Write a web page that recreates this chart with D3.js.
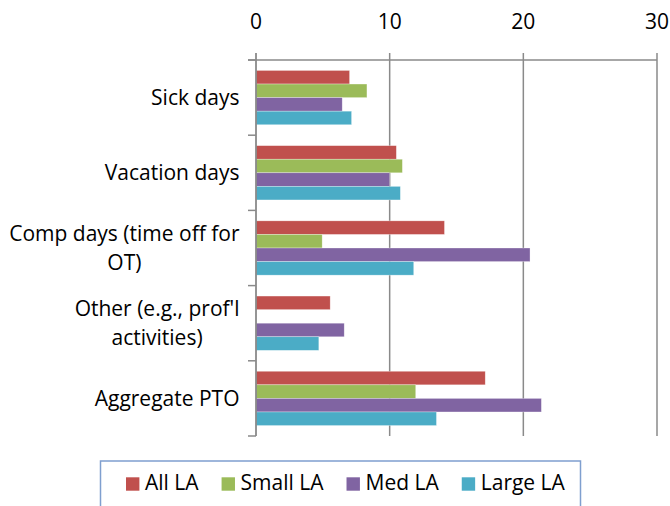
<!DOCTYPE html>
<html>
<head>
<meta charset="utf-8">
<script src="https://cdn.jsdelivr.net/npm/d3@7"></script>
<style>
  html, body { margin: 0; padding: 0; background: #fff; }
  svg { display: block; }
  text { font-family: "Open Sans", sans-serif; fill: #000; }
</style>
</head>
<body>
<svg id="chart" width="670" height="506"></svg>
<script>
const categories = [
  ["Sick days"],
  ["Vacation days"],
  ["Comp days (time off for", "OT)"],
  ["Other (e.g., prof'l", "activities)"],
  ["Aggregate PTO"]
];
const seriesNames = ["All LA", "Small LA", "Med LA", "Large LA"];
const seriesColors = ["#C0504D", "#9BBB59", "#8064A2", "#4BACC6"];
const allLA   = [7.0, 10.5, 14.1, 5.55, 17.15];
const smallLA = [8.3, 10.95, 4.95, null, 11.95];
const medLA   = [6.45, 10.0, 20.5, 6.6, 21.35];
const largeLA = [7.15, 10.8, 11.8, 4.7, 13.5];
const tickValues = [0, 10, 20, 30];

const seriesValues = [allLA, smallLA, medLA, largeLA];
const svg = d3.select("#chart");
const fontSize = 21;
const gridColor = "#8a8a8a";

const x = d3.scaleLinear().domain([0, 30]).range([256, 657]);
const catKeys = categories.map((c, i) => i);
const y = d3.scaleBand().domain(catKeys).range([60, 436]).paddingInner(0).paddingOuter(0);
const ys = d3.scaleBand().domain(seriesNames.map((s, i) => i)).range([0, y.bandwidth()]).paddingInner(0).paddingOuter(0.77);

// vertical gridlines (including tick extension above axis)
svg.append("g").selectAll("line").data(tickValues.filter(t => t > 0)).join("line")
  .attr("x1", d => x(d)).attr("x2", d => x(d))
  .attr("y1", 53).attr("y2", 436)
  .attr("stroke", gridColor).attr("stroke-width", 1.5);

// top axis line
svg.append("line")
  .attr("x1", 248).attr("x2", x(30)).attr("y1", 60).attr("y2", 60)
  .attr("stroke", gridColor).attr("stroke-width", 1.5);

// bars
const bars = svg.append("g");
seriesValues.forEach((vals, si) => {
  bars.append("g").selectAll("rect")
    .data(vals.map((v, ci) => ({v, ci})).filter(d => d.v != null))
    .join("rect")
    .attr("x", x(0))
    .attr("y", d => y(d.ci) + ys(si))
    .attr("width", d => x(d.v) - x(0))
    .attr("height", ys.bandwidth())
    .attr("fill", seriesColors[si])
    .attr("stroke", "#ffffff").attr("stroke-opacity", 0.5).attr("stroke-width", 0.6);
});

// left axis line with category ticks
svg.append("line")
  .attr("x1", x(0)).attr("x2", x(0)).attr("y1", 53).attr("y2", 436)
  .attr("stroke", gridColor).attr("stroke-width", 1.8);
const boundaries = catKeys.map(k => y(k)).concat([y(catKeys[catKeys.length - 1]) + y.bandwidth()]);
svg.append("g").selectAll("line").data(boundaries).join("line")
  .attr("x1", 248).attr("x2", x(0))
  .attr("y1", d => d).attr("y2", d => d)
  .attr("stroke", gridColor).attr("stroke-width", 1.5);

// tick labels
svg.append("g").selectAll("text").data(tickValues).join("text")
  .attr("x", d => x(d)).attr("y", 29)
  .attr("text-anchor", "middle")
  .style("font-size", fontSize + "px")
  .text(d => d);

// category labels: block right-aligned, lines centered
const lineH = 29;
const labelRight = 239.5;
categories.forEach((lines, ci) => {
  const g = svg.append("g");
  const ts = lines.map(l => g.append("text").style("font-size", fontSize + "px").text(l));
  const maxW = d3.max(ts, t => t.node().getComputedTextLength());
  const cy = y(ci) + y.bandwidth() / 2;
  const first = cy + 7.3 - (lines.length - 1) * lineH / 2;
  ts.forEach((t, li) => {
    t.attr("x", labelRight - maxW / 2).attr("y", first + li * lineH).attr("text-anchor", "middle");
  });
});

// legend
const legend = svg.append("g");
legend.append("rect")
  .attr("x", 100.5).attr("y", 461).attr("width", 480).attr("height", 52)
  .attr("fill", "none").attr("stroke", "#7f9fcf").attr("stroke-width", 1.5);
let lx = 126;
seriesNames.forEach((name, i) => {
  legend.append("rect").attr("x", lx).attr("y", 477.3).attr("width", 13.4).attr("height", 13.4)
    .attr("fill", seriesColors[i]);
  const t = legend.append("text").attr("x", lx + 19).attr("y", 490)
    .style("font-size", fontSize + "px").text(name);
  lx = lx + 19 + t.node().getComputedTextLength() + 23;
});
</script>
</body>
</html>
